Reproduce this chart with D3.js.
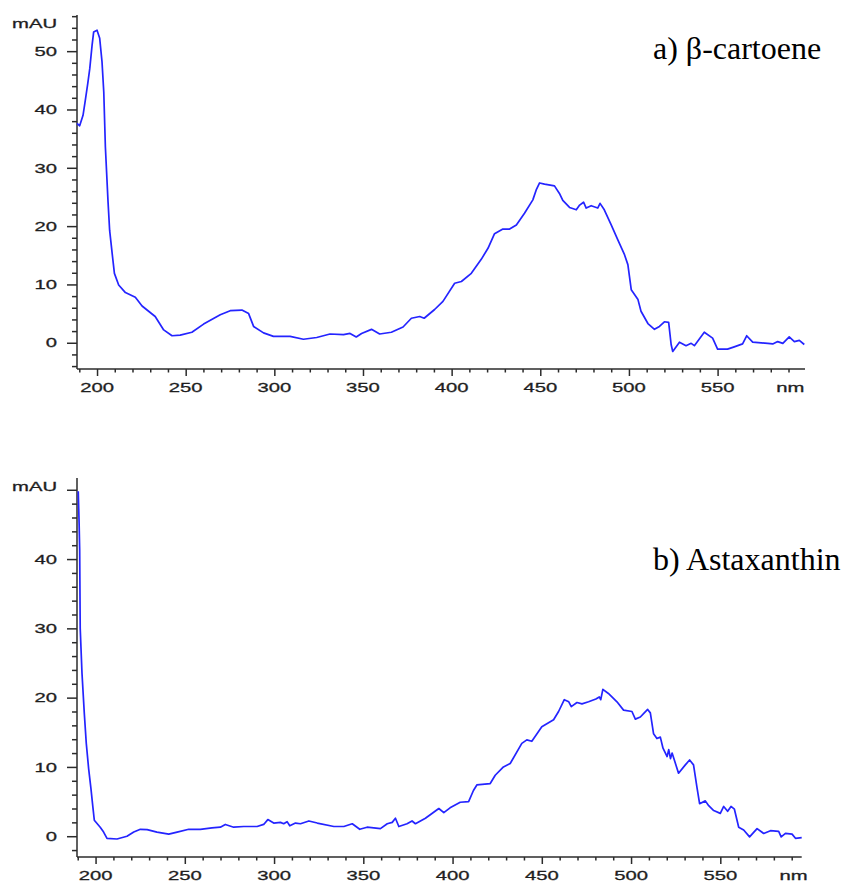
<!DOCTYPE html>
<html>
<head>
<meta charset="utf-8">
<script src="https://cdn.jsdelivr.net/npm/d3@7"></script>
<style>
  html, body { margin: 0; padding: 0; background: #ffffff; }
  svg { display: block; }
</style>
</head>
<body>
<svg id="chart" width="845" height="884"></svg>
<script>
// β-carotene UV-Vis spectrum (wavelength nm, absorbance mAU)
const betaNm = [188.7,190.2,192.1,193.4,194.8,195.9,197.2,198.1,200,201.5,202.8,203.8,204.7,206.2,207.1,208.5,209.8,212.2,216,221.6,225.4,232.8,237.6,242.3,246.9,253.5,260.1,269.5,275.1,281.7,285.5,288.3,293.9,299.5,308.9,316.4,323.9,331.4,339,342.7,346.2,349.2,354.8,359.4,366,372.6,377.3,382,384.5,390.4,395.1,401.7,405.5,411.1,416.7,420.5,424.2,428.9,432.7,436.5,441.1,445.8,447.7,449.6,452.4,458,460.8,462.7,466.5,470.3,472.2,474.4,475.9,478.7,482.4,483.7,486.1,490,493.8,497.5,499.4,501.3,505.1,506.8,510.7,514.4,517.2,520,522.4,523.8,524.7,528.5,532.2,535.1,536.9,542.5,547.2,550,555.6,559.4,564.1,566.4,569.8,578.3,581.1,583.9,586.8,590.4,593.3,596.1,598.9];
const betaAbs = [37.6,37.2,39.0,41.6,44.5,47.0,51.0,53.3,53.6,52.2,48.2,43.0,33.6,24.2,19.3,15.4,11.9,9.9,8.6,7.8,6.3,4.5,2.2,1.2,1.3,1.8,3.2,4.8,5.5,5.6,5.0,2.8,1.7,1.1,1.1,0.6,0.9,1.5,1.4,1.6,1.0,1.6,2.3,1.5,1.8,2.7,4.2,4.5,4.2,5.7,7.1,10.2,10.5,11.9,14.3,16.2,18.7,19.5,19.5,20.2,22.2,24.5,26.2,27.4,27.2,26.9,25.6,24.4,23.2,22.8,23.6,24.1,23.1,23.5,23.1,23.9,22.8,20.2,17.6,15.1,13.4,9.1,7.4,5.4,3.3,2.3,2.8,3.6,3.5,-0.3,-1.5,0.1,-0.5,-0.1,-0.5,1.8,0.8,-1.1,-1.1,-0.7,-0.2,1.2,0.1,-0.1,-0.2,0.2,-0.1,1.0,0.2,0.4,-0.3];

// Astaxanthin UV-Vis spectrum (wavelength nm, absorbance mAU)
const astaNm = [190.3,190.8,191.1,191.4,192.4,193.7,194.8,196.1,197.4,198.5,199.3,202.6,204.5,206.4,212,217.6,221.4,225.1,228.9,234.4,241,245.7,252.2,258.7,265.2,269.9,272.7,277.4,283,290.5,294.2,296.5,299.8,303.6,305.4,307.3,308.8,312,314.8,319.5,324.2,333.5,339.1,343.8,348,352.1,359.6,363.4,366.2,368,369.9,374.5,377.3,379.2,384.8,392.3,395.1,398.6,404.3,409,411.7,413.6,421.1,423.9,428.5,432.3,438.8,441.6,444.4,450,456.6,459.4,462.6,465.1,466.5,469.7,472.5,476.2,480.3,482.2,483,484.2,487.3,492.1,495.8,500.5,502.4,505.2,507.4,509.3,510.8,512.6,514.5,516.4,517.9,520.2,521.1,522.1,523,526.6,530.4,532.8,535,536.9,538.4,541.6,543.5,546.3,550,551.9,554.1,556,557.9,560.3,563.1,566.4,570.6,574.3,578.1,582.7,584.1,586.5,590.2,592.1,595.6];
const astaAbs = [49.8,45.0,41.3,30.0,23.5,17.7,13.4,9.8,6.9,4.2,2.3,1.3,0.6,-0.3,-0.4,0,0.6,1.0,0.95,0.6,0.3,0.6,1.0,1.0,1.2,1.3,1.7,1.3,1.4,1.4,1.7,2.4,1.9,2.0,1.8,2.1,1.5,1.9,1.8,2.2,1.9,1.4,1.4,1.8,1.0,1.3,1.1,1.8,2.0,2.6,1.4,1.8,2.2,1.8,2.6,4.0,3.4,4.1,4.9,5.0,6.6,7.4,7.6,8.8,10.0,10.5,13.4,13.9,13.7,15.8,16.8,18.0,19.7,19.4,18.7,19.3,19.1,19.4,19.8,20.1,19.7,21.2,20.6,19.4,18.2,18.0,16.9,17.2,17.8,18.3,17.8,14.8,14.1,14.3,12.7,11.5,12.5,11.2,12.0,9.1,10.3,11.0,10.3,7.1,4.7,5.1,4.4,3.7,3.3,4.3,3.6,4.3,3.9,1.3,0.9,-0.1,1.1,0.4,0.8,0.7,-0.1,0.4,0.3,-0.3,-0.2];

// Axis tick values
const xMajorTicks = [200, 250, 300, 350, 400, 450, 500, 550];
const xMinorTicks = d3.range(190, 600, 10);
const xUnitLabel = "nm";
const yUnitLabel = "mAU";
const panelTitles = ["a) β-cartoene", "b) Astaxanthin"];

const panels = [
  { nm: betaNm, abs: betaAbs, title: panelTitles[0],
    xDomain: [188.7, 599.3], xRange: [77, 805],
    yDomain: [-4.5, 56.2], yRange: [369, 15],
    yMajor: [0, 10, 20, 30, 40, 50], yMinor: d3.range(-4, 57, 2),
    titlePos: [653, 59] },
  { nm: astaNm, abs: astaAbs, title: panelTitles[1],
    xDomain: [189.6, 595.6], xRange: [77, 801.7],
    yDomain: [-3.0, 51.7], yRange: [857, 478],
    yMajor: [0, 10, 20, 30, 40], yMinor: d3.range(-2, 51, 2),
    titlePos: [653, 570] }
];

const svg = d3.select("#chart");
const axisColor = "#2b2b2b";
const lineColor = "#2424ff";
const labelFont = "'Liberation Sans', Arial, sans-serif";
const stretch = 1.5;   // tick labels are drawn horizontally widened

panels.forEach(p => {
  const x = d3.scaleLinear().domain(p.xDomain).range(p.xRange);
  const y = d3.scaleLinear().domain(p.yDomain).range(p.yRange);
  const g = svg.append("g");

  // x axis: minor ticks every 10 nm, longer ticks at labelled values
  const xAxis = d3.axisBottom(x).tickValues(xMinorTicks).tickSize(3.5).tickFormat("");
  const xg = g.append("g").attr("transform", `translate(0,${p.yRange[0]})`).call(xAxis);
  xg.selectAll(".tick line").filter(d => xMajorTicks.includes(d)).attr("y2", 7);
  xg.select(".domain").attr("d", `M${p.xRange[0]},0H${p.xRange[1]}`);
  xg.selectAll("path, line").attr("stroke", axisColor).attr("stroke-width", 1.5);

  // y axis: minor ticks every 2 mAU, longer ticks every 10
  const yAxis = d3.axisLeft(y).tickValues(p.yMinor).tickSize(5).tickFormat("");
  const yg = g.append("g").attr("transform", `translate(${p.xRange[0]},0)`).call(yAxis);
  yg.selectAll(".tick line").filter(d => d % 10 === 0).attr("x2", -10);
  yg.select(".domain").attr("d", `M0,${p.yRange[1]}V${p.yRange[0]}`);
  yg.selectAll("path, line").attr("stroke", axisColor).attr("stroke-width", 1.5);

  // widened tick labels
  const label = (tx, ty, text, anchor) =>
    g.append("text")
      .attr("transform", `translate(${tx},${ty}) scale(${stretch},1)`)
      .attr("text-anchor", anchor)
      .attr("dominant-baseline", "central")
      .attr("font-family", labelFont)
      .attr("font-size", 13.5)
      .attr("fill", "#1e1e1e")
      .attr("stroke", "#1e1e1e")
      .attr("stroke-width", 0.3)
      .text(text);

  xMajorTicks.forEach(v => label(x(v), p.yRange[0] + 18, String(v), "middle"));
  label(x(591), p.yRange[0] + 18, xUnitLabel, "middle");
  p.yMajor.forEach(v => label(57, y(v), String(v), "end"));
  label(57, p.yRange[1] + 8, yUnitLabel, "end");

  // spectrum trace
  const data = p.nm.map((n, i) => [n, p.abs[i]]);
  g.append("path")
    .datum(data)
    .attr("fill", "none")
    .attr("stroke", lineColor)
    .attr("stroke-width", 1.7)
    .attr("stroke-linejoin", "round")
    .attr("d", d3.line().x(d => x(d[0])).y(d => y(d[1])));

  // panel title
  g.append("text")
    .attr("x", p.titlePos[0]).attr("y", p.titlePos[1])
    .attr("font-family", "'Liberation Serif', 'Times New Roman', serif")
    .attr("font-size", 32)
    .attr("fill", "#000")
    .text(p.title);
});
</script>
</body>
</html>
